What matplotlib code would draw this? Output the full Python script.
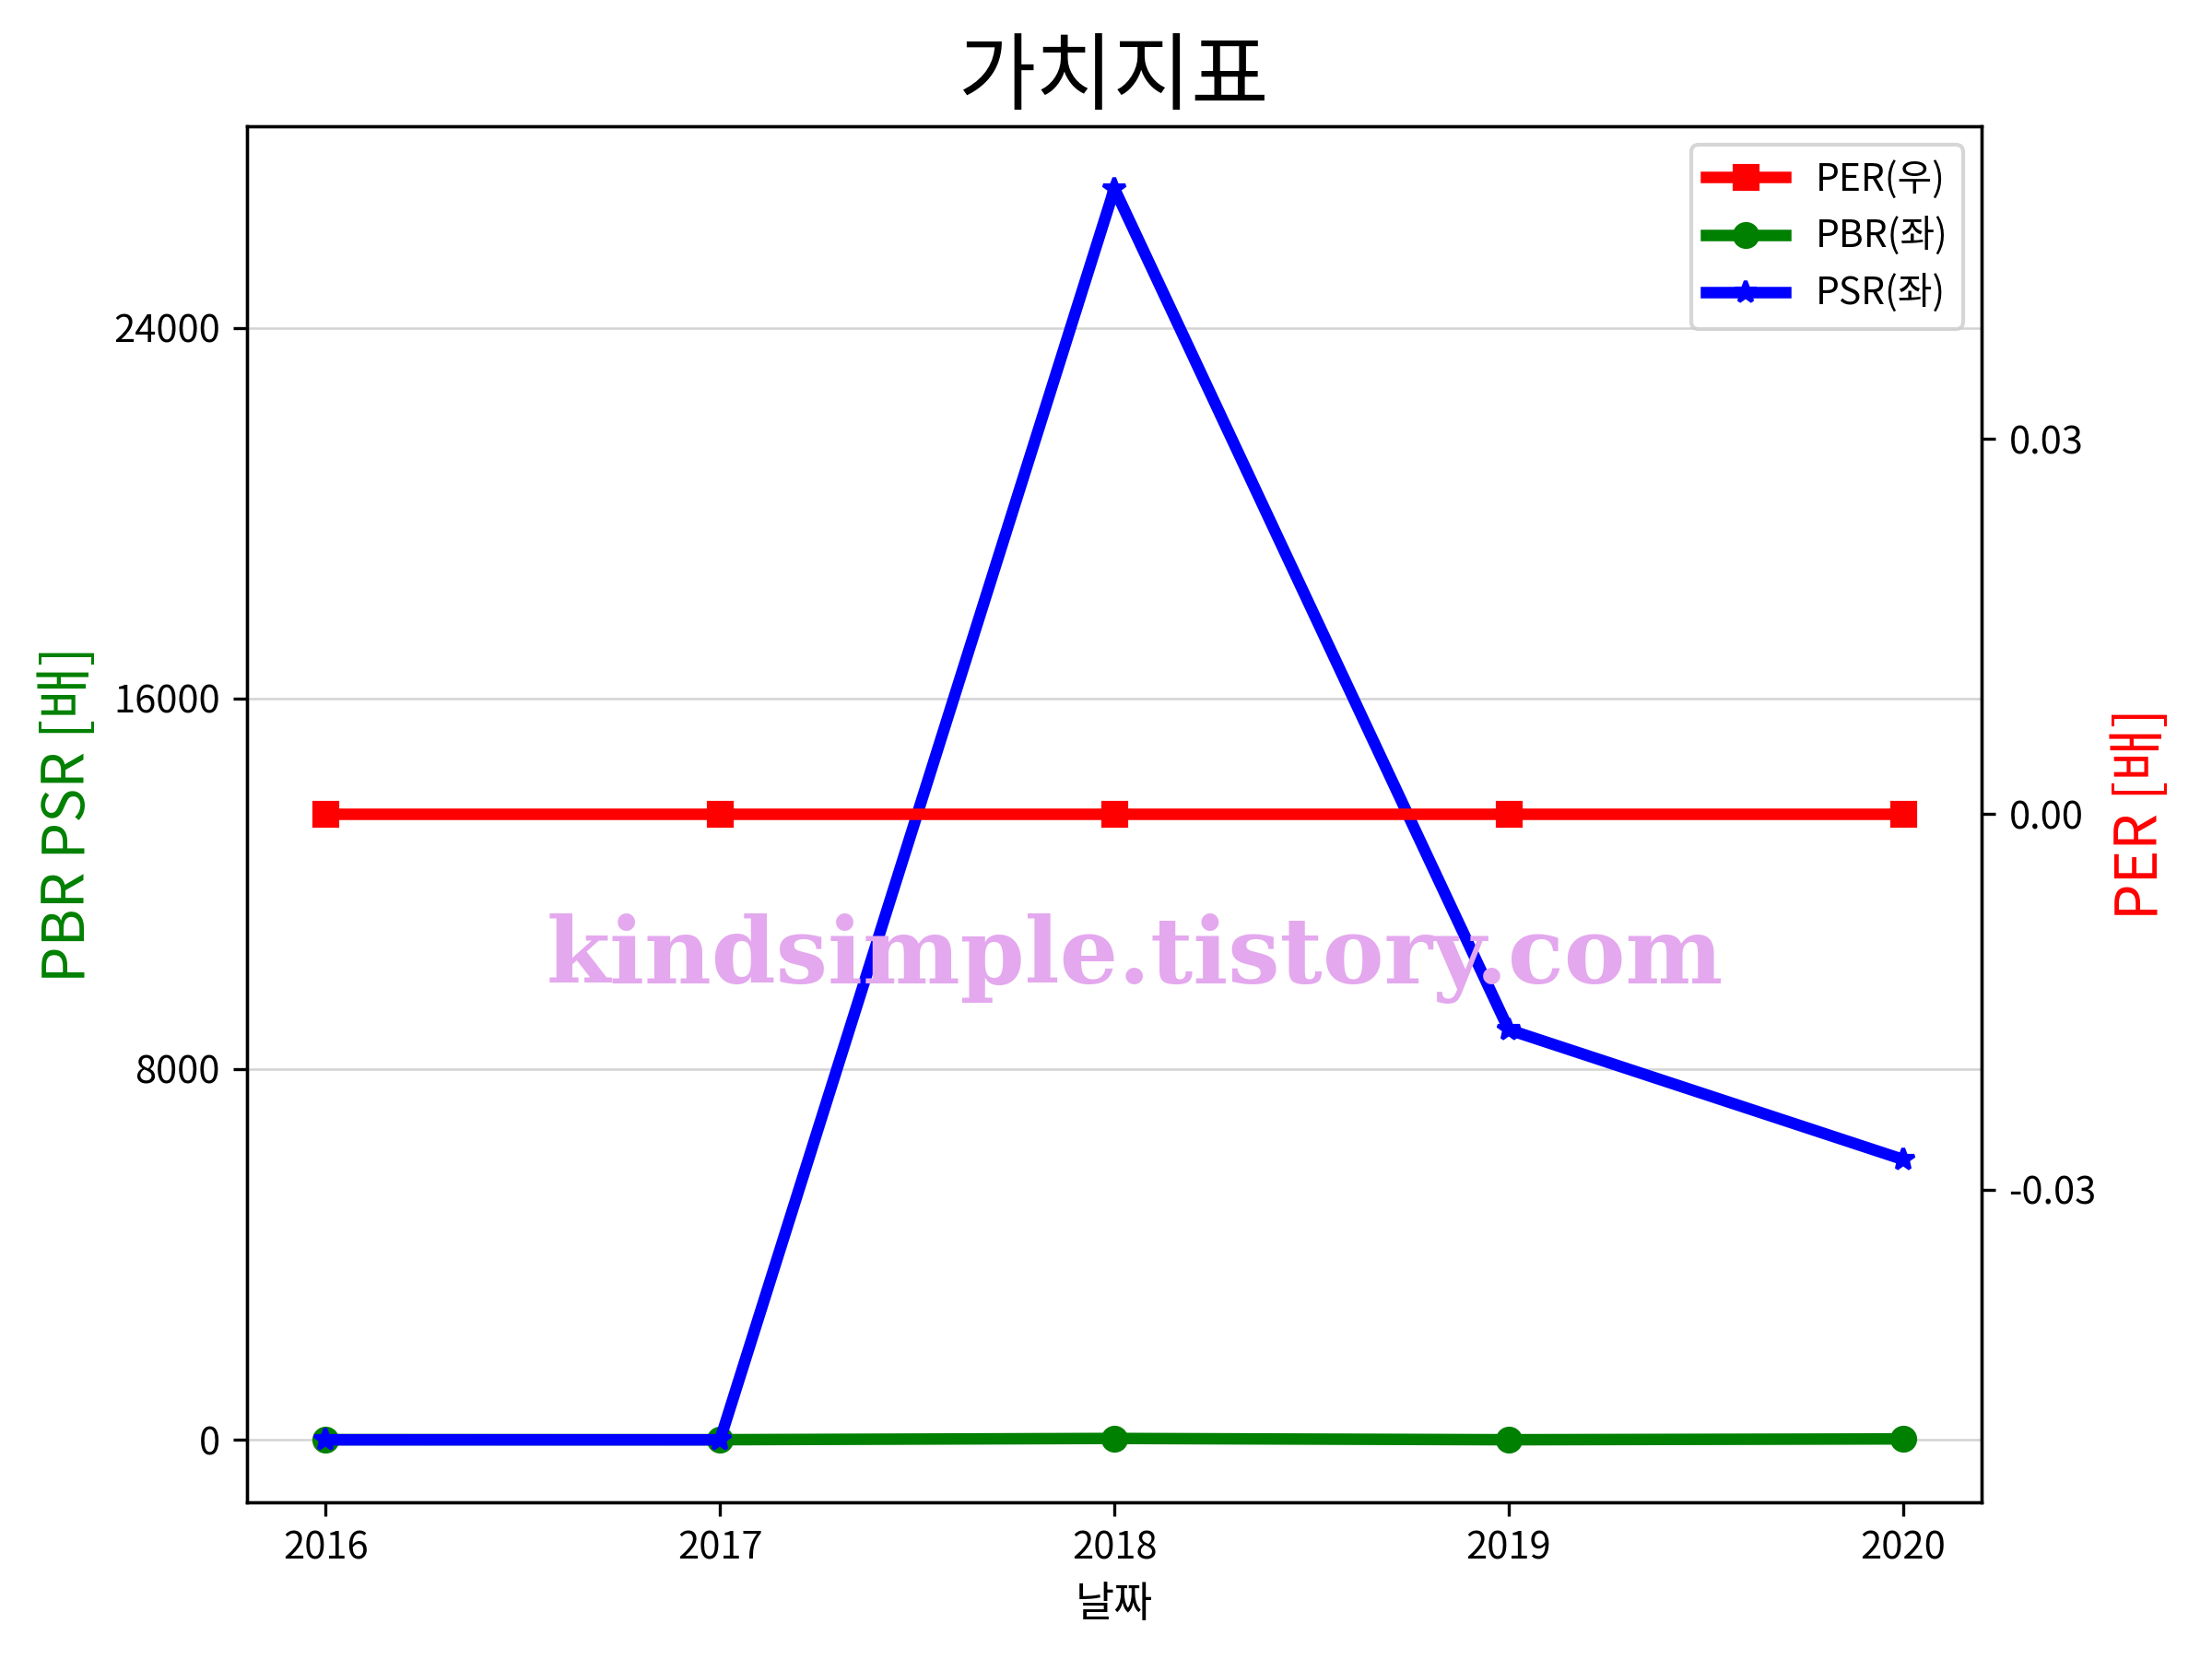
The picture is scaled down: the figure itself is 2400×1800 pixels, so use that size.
import numpy as np
import matplotlib
matplotlib.use('Agg')
import matplotlib.pyplot as plt
from matplotlib.ticker import MaxNLocator

plt.rcParams['font.family'] = ['Noto Sans CJK KR', 'DejaVu Sans']
plt.rcParams['axes.unicode_minus'] = False

years = ['2016', '2017', '2018', '2019', '2020']
per = [0, 0, 0, 0, 0]
pbr = [5, 3, 30, 2, 20]
psr = [0, 0, 27000, 8850, 6050]

fig, ax1 = plt.subplots(figsize=(8, 6), dpi=300)
ax2 = ax1.twinx()

l2, = ax1.plot(years, pbr, color='green', marker='o', linewidth=3, markersize=6, label='PBR(좌)')
l3, = ax1.plot(years, psr, color='blue', marker='*', linewidth=3, markersize=6, label='PSR(좌)')
l1, = ax2.plot(years, per, color='red', marker='s', linewidth=3, markersize=6, label='PER(우)')

ax1.yaxis.set_major_locator(MaxNLocator(nbins=4, steps=[1, 2, 3, 4, 8, 10]))
ax2.yaxis.set_major_locator(MaxNLocator(nbins=4, steps=[1, 2, 3, 4, 8, 10]))
ax1.grid(axis='y', color='lightgray', linewidth=0.6)

ax1.set_xlabel('날짜', fontsize=11)
ax1.set_ylabel('PBR PSR [배]', color='green', fontsize=15)
ax2.set_ylabel('PER [배]', color='red', fontsize=15)
ax1.tick_params(labelsize=10)
ax2.tick_params(labelsize=10)
ax1.set_title('가치지표', fontsize=22)

ax2.legend(handles=[l1, l2, l3], loc='upper right', fontsize=9.8, handlelength=2.1)

fig.text(0.513, 0.422, 'kindsimple.tistory.com', fontsize=24, fontweight='heavy',
         family='DejaVu Serif', color='#E4A8EE', ha='center', va='center')

fig.subplots_adjust(left=0.1116, right=0.896, top=0.924, bottom=0.0944)
fig.savefig('out.png')
